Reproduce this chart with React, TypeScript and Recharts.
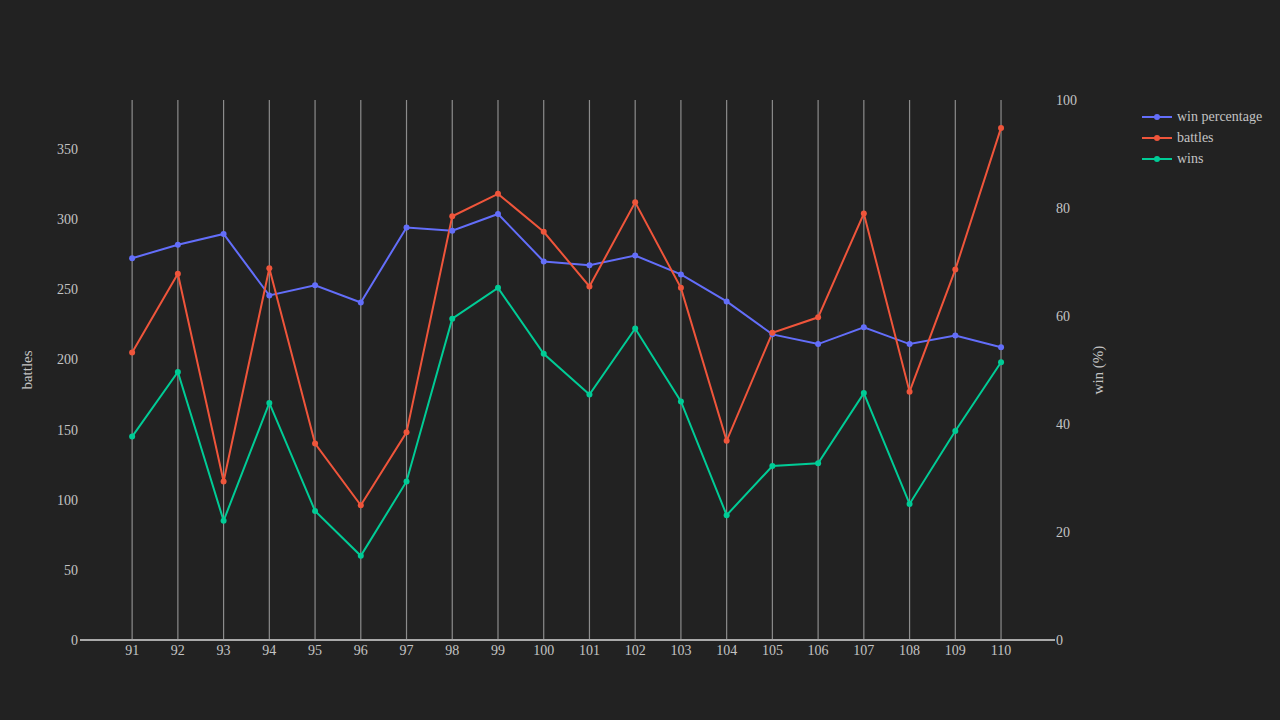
import { LineChart, Line, XAxis, YAxis, ReferenceLine } from "recharts";

// season numbers on the x axis
const seasons = [91, 92, 93, 94, 95, 96, 97, 98, 99, 100, 101, 102, 103, 104, 105, 106, 107, 108, 109, 110];
const battles = [205, 261, 113, 265, 140, 96, 148, 302, 318, 291, 252, 312, 251, 142, 219, 230, 304, 177, 264, 365];
const wins = [145, 191, 85, 169, 92, 60, 113, 229, 251, 204, 175, 222, 170, 89, 124, 126, 176, 97, 149, 198];
const winPct = [70.7, 73.2, 75.2, 63.8, 65.7, 62.5, 76.4, 75.8, 78.9, 70.1, 69.4, 71.2, 67.7, 62.7, 56.6, 54.8, 57.9, 54.8, 56.4, 54.2];

const leftTicks = [0, 50, 100, 150, 200, 250, 300, 350];
const rightTicks = [0, 20, 40, 60, 80, 100];

const series = [
  { key: "winPct", name: "win percentage", color: "#636efa", axis: "right" },
  { key: "battles", name: "battles", color: "#ef553b", axis: "left" },
  { key: "wins", name: "wins", color: "#00cc96", axis: "left" },
];

const data = seasons.map((s, i) => ({
  season: s,
  battles: battles[i],
  wins: wins[i],
  winPct: winPct[i],
}));

const FONT = "'Liberation Serif', 'Times New Roman', serif";
const TEXT = "#c4c4c4";

const AxisTitle = (dx: number, text: string) => (props: any) => {
  const { viewBox } = props;
  const cx = viewBox.x + dx;
  const cy = viewBox.y + viewBox.height / 2;
  return (
    <text
      x={cx}
      y={cy}
      transform={`rotate(-90 ${cx} ${cy})`}
      textAnchor="middle"
      dominantBaseline="central"
      fill={TEXT}
      fontSize={15}
      fontFamily={FONT}
    >
      {text}
    </text>
  );
};

export default function App() {
  return (
    <div
      style={{
        position: "fixed",
        left: 0,
        top: 0,
        width: 1280,
        height: 720,
        background: "#222222",
        fontFamily: FONT,
      }}
    >
      <LineChart
        width={1280}
        height={720}
        data={data}
        margin={{ top: 100, right: 165, left: 0, bottom: 50 }}
      >
        <XAxis
          dataKey="season"
          type="number"
          domain={[89.86, 111.18]}
          ticks={seasons}
          allowDataOverflow
          height={30}
          axisLine={{ stroke: "#aaaaaa", strokeWidth: 2 }}
          tickLine={false}
          tickSize={0}
          tickMargin={5}
          tick={{ fill: TEXT, fontSize: 14, fontFamily: FONT }}
        />
        <YAxis
          yAxisId="left"
          width={80}
          domain={[0, 384.9]}
          ticks={leftTicks}
          allowDataOverflow
          axisLine={false}
          tickLine={false}
          tickSize={0}
          tickMargin={2}
          tick={{ fill: TEXT, fontSize: 14, fontFamily: FONT }}
          label={{ content: AxisTitle(27, "battles") }}
        />
        <YAxis
          yAxisId="right"
          orientation="right"
          width={60}
          domain={[0, 100]}
          ticks={rightTicks}
          axisLine={false}
          tickLine={false}
          tickSize={0}
          tickMargin={1}
          tick={{ fill: TEXT, fontSize: 14, fontFamily: FONT }}
          label={{ content: AxisTitle(43, "win (%)") }}
        />
        {/* vertical grid at each season */}
        {seasons.map((s) => (
          <ReferenceLine key={s} x={s} yAxisId="left" stroke="#8c8c8c" strokeWidth={1.2} />
        ))}
        {series.map((s) => (
          <Line
            key={s.key}
            yAxisId={s.axis}
            type="linear"
            dataKey={s.key}
            name={s.name}
            stroke={s.color}
            strokeWidth={2}
            dot={{ r: 3, fill: s.color, stroke: s.color, strokeWidth: 0 }}
            isAnimationActive={false}
          />
        ))}
      </LineChart>
      <div style={{ position: "absolute", left: 1141, top: 106 }}>
        {series.map((s) => (
          <div
            key={s.key}
            style={{ display: "flex", alignItems: "center", height: 21, color: TEXT, fontSize: 14 }}
          >
            <svg width={32} height={12} style={{ marginRight: 4 }}>
              <line x1={1} y1={6} x2={31} y2={6} stroke={s.color} strokeWidth={2} />
              <circle cx={16} cy={6} r={3} fill={s.color} />
            </svg>
            <span>{s.name}</span>
          </div>
        ))}
      </div>
    </div>
  );
}
